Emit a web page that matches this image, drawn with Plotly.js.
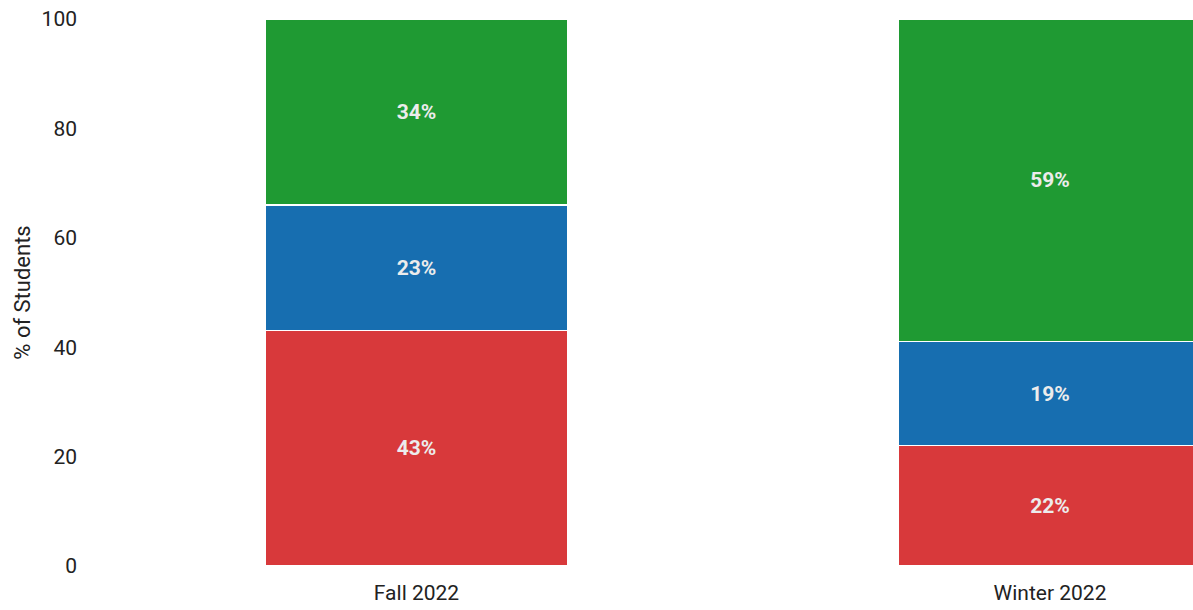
<!DOCTYPE html>
<html>
<head>
<meta charset="utf-8">
<script src="https://cdn.plot.ly/plotly-3.0.1.min.js"></script>
<style>html,body{margin:0;padding:0;background:#fff;}#chart{width:1193px;height:610px;}</style>
</head>
<body>
<div id="chart"></div>
<script>
const categories = ["Fall 2022", "Winter 2022"];
const redValues = [43, 22];
const blueValues = [23, 19];
const greenValues = [34, 59];
const yTicks = [0, 20, 40, 60, 80, 100];

const colors = { red: "#d8393b", blue: "#176eb0", green: "#1f9a33" };

function seg(vals, color, name) {
  return {
    type: "bar",
    x: categories,
    y: vals,
    name: name,
    width: 0.478,
    marker: { color: color, line: { color: "#ffffff", width: 1.2 } },
    texttemplate: "%{y}%",
    textposition: "inside",
    insidetextanchor: "middle",
    textangle: 0,
    textfont: { family: "Roboto, sans-serif", size: 21, color: "#ececec", weight: "bold" },
    hoverinfo: "skip"
  };
}

const data = [
  seg(redValues, colors.red, "red"),
  seg(blueValues, colors.blue, "blue"),
  seg(greenValues, colors.green, "green")
];

const layout = {
  barmode: "stack",
  showlegend: false,
  paper_bgcolor: "#ffffff",
  plot_bgcolor: "#ffffff",
  margin: { l: 90, r: 0, t: 19, b: 44 },
  font: { family: "Roboto, sans-serif", color: "#222222", size: 21 },
  xaxis: {
    range: [-0.5154, 1.2257],
    showgrid: false, zeroline: false, showline: false, ticks: "",
    ticklabelstandoff: 12,
    tickfont: { family: "Roboto, sans-serif", size: 21, color: "#222222" }
  },
  yaxis: {
    range: [0, 100],
    tickvals: yTicks,
    showgrid: false, zeroline: false, showline: false, ticks: "",
    ticklabelstandoff: 12,
    tickfont: { family: "Roboto, sans-serif", size: 21, color: "#222222" },
    title: { text: "% of Students", font: { family: "Roboto, sans-serif", size: 22, color: "#222222" }, standoff: 4 }
  }
};

Plotly.newPlot("chart", data, layout, { displayModeBar: false, responsive: false });
</script>
</body>
</html>
